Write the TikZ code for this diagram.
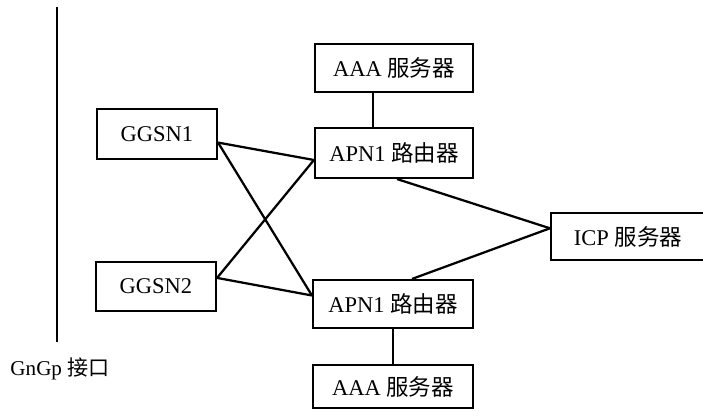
\documentclass[tikz,border=0pt]{standalone}
\usepackage{fontspec}
\setmainfont{Liberation Serif}
\newfontfamily\cjk{Noto Sans CJK SC}
\usetikzlibrary{positioning}

\begin{document}
\begin{tikzpicture}[x=0.025cm,y=-0.025cm,
    box/.style={draw,line width=1.5pt,inner sep=0pt,font=\fontsize{16}{18}\selectfont},
    link/.style={line width=1.6pt}]
    \clip (0,0) rectangle (703,411);
    \node[box,minimum width=3cm,minimum height=1.25cm] (ggsn1) at (157,134) {GGSN1};
    \node[box,minimum width=3cm,minimum height=1.225cm] (ggsn2) at (156,286.5) {GGSN2};
    \node[box,minimum width=3.95cm,minimum height=1.2cm] (aaatop) at (394,68) {AAA {\cjk 服务器}};
    \node[box,minimum width=3.95cm,minimum height=1.25cm] (apntop) at (394,153) {APN1 {\cjk 路由器}};
    \node[box,minimum width=4cm,minimum height=1.2cm] (apnbot) at (393,304) {APN1 {\cjk 路由器}};
    \node[box,minimum width=4cm,minimum height=1.075cm] (aaabot) at (393,386.5) {AAA {\cjk 服务器}};
    \node[box,minimum width=3.85cm,minimum height=1.175cm] (icp) at (628,236.5) {ICP {\cjk 服务器}};
    \node[font=\fontsize{15}{17}\selectfont,inner sep=0pt] (gngp) at (60,369) {GnGp {\cjk 接口}};
    \coordinate (ltop) at (57,7);
    \coordinate (lbot) at (57,342);
    \draw[line width=1.1pt] (ltop) -- (lbot);
    % links
    \draw[link] (ggsn1.-8) -- (apntop.185);
    \draw[link] (ggsn1.-8) -- (apnbot.174);
    \draw[link] (ggsn2.8) -- (apntop.185);
    \draw[link] (ggsn2.8) -- (apnbot.174);
    \draw[link] ([xshift=-0.525cm]aaatop.south) -- ([xshift=-0.525cm]apntop.north);
    \draw[link] (apnbot.south) -- (aaabot.north);
    \draw[link] ([xshift=0.075cm]apntop.south) -- (icp.174);
    \draw[link] ([xshift=0.475cm]apnbot.north) -- (icp.174);
\end{tikzpicture}
\end{document}
